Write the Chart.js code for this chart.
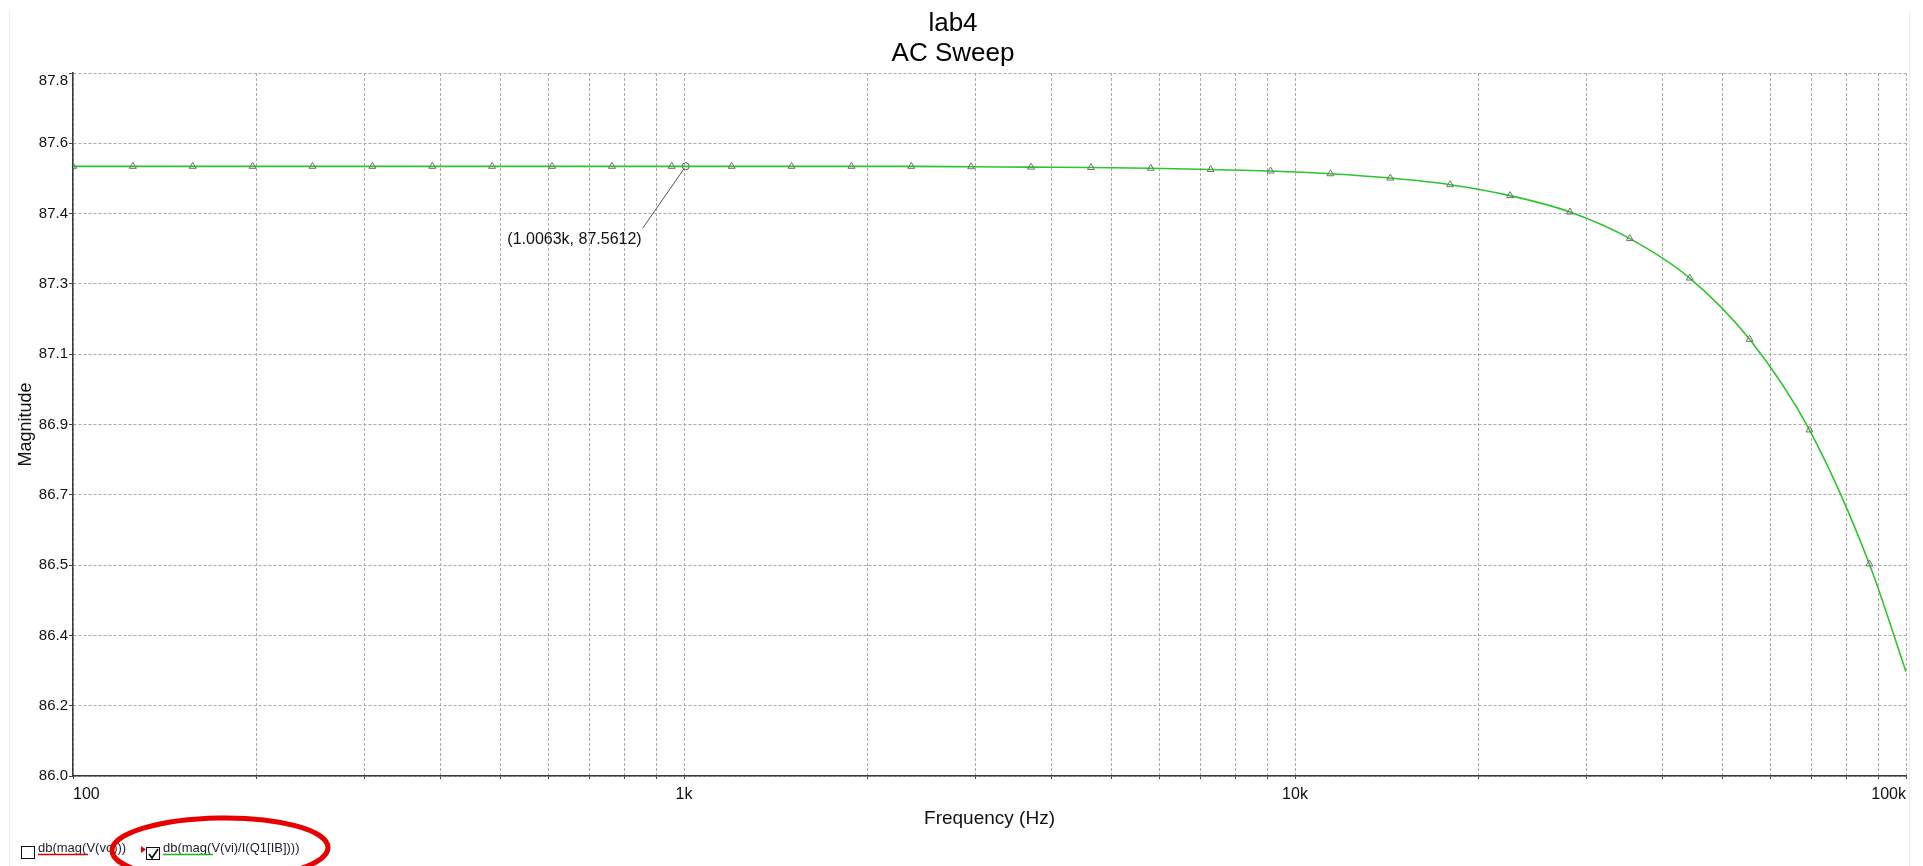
<!doctype html>
<html lang="en">

<head>
  <meta charset="utf-8">
  <title>lab4 AC Sweep</title>
  <style>
    html, body { margin: 0; padding: 0; background: #fff; }
    .container { position: relative; width: 1923px; height: 866px; }
  </style>
</head>

<body>
  <div class="container">
    <canvas id="myChart"></canvas>
  </div>

  <script src="https://cdn.jsdelivr.net/npm/chart.js@4.4.2/dist/chart.umd.min.js"></script>

  <script>
    const FONT = "'Liberation Sans', Arial, sans-serif";

    // trace points (marker positions) plus the sweep end at 100k
    const freq = [100, 125.3, 157.0, 196.8, 246.6, 309.0, 387.3, 485.3, 608.1, 762.1,
      955.0, 1196.7, 1499.7, 1879.3, 2355.0, 2951.2, 3698.2, 4634.4, 5807.6, 7277.8,
      9120.1, 11429, 14322, 17947, 22491, 28184, 35318, 44259, 55463, 69502, 87096, 100000];
    const mag = [87.561, 87.561, 87.561, 87.561, 87.561, 87.561, 87.561, 87.561, 87.561, 87.561,
      87.561, 87.561, 87.561, 87.561, 87.561, 87.560, 87.559, 87.558, 87.556, 87.553,
      87.549, 87.542, 87.531, 87.514, 87.486, 87.444, 87.376, 87.275, 87.118, 86.886, 86.543, 86.267];

    // cursor readout
    const cursorFreq = [1006.3];
    const cursorMag = [87.5612];
    const cursorText = ['(1.0063k, 87.5612)'];

    // axis grid / labels
    const xGrid = [100, 200, 300, 400, 500, 600, 700, 800, 900,
      1000, 2000, 3000, 4000, 5000, 6000, 7000, 8000, 9000,
      10000, 20000, 30000, 40000, 50000, 60000, 70000, 80000, 90000, 100000];
    const xTickLabels = { 100: '100', 1000: '1k', 10000: '10k', 100000: '100k' };
    const yGrid = [86.0, 86.18, 86.36, 86.54, 86.72, 86.90, 87.08, 87.26, 87.44, 87.62, 87.8];
    const yTickLabels = ['86.0', '86.2', '86.4', '86.5', '86.7', '86.9', '87.1', '87.3', '87.4', '87.6', '87.8'];

    // trace legend at the bottom
    const legendNames = ['db(mag(V(vo)))', 'db(mag(V(vi)/I(Q1[IB])))'];
    const legendColors = ['#e00000', '#18b818'];
    const legendChecked = [false, true];

    const framePlugin = {
      id: 'frame',
      beforeDraw(chart) {
        const c = chart.ctx;
        c.save();
        c.strokeStyle = '#ececec';
        c.lineWidth = 1;
        c.beginPath();
        c.moveTo(9.5, 11); c.lineTo(9.5, 866);
        c.moveTo(1909.5, 11); c.lineTo(1909.5, 866);
        c.stroke();
        c.restore();
      }
    };

    // top y label sits inside the plot, below the top grid line
    const topLabelPlugin = {
      id: 'topLabel',
      afterDraw(chart) {
        const s = chart.scales.y;
        const c = chart.ctx;
        c.save();
        c.font = '15px ' + FONT;
        c.fillStyle = '#111';
        c.textAlign = 'right';
        c.textBaseline = 'middle';
        c.fillText(yTickLabels[yTickLabels.length - 1], s.right - 5, s.getPixelForValue(yGrid[yGrid.length - 1]) + 8);
        c.restore();
      }
    };

    const cursorPlugin = {
      id: 'cursorLabel',
      afterDatasetsDraw(chart) {
        const pt = chart.getDatasetMeta(1).data[0];
        if (!pt) return;
        const c = chart.ctx;
        c.save();
        c.strokeStyle = '#555';
        c.lineWidth = 1;
        c.beginPath();
        c.moveTo(pt.x - 2, pt.y + 3);
        c.lineTo(pt.x - 43, pt.y + 62);
        c.stroke();
        c.font = '16px ' + FONT;
        c.fillStyle = '#111';
        c.textAlign = 'right';
        c.textBaseline = 'middle';
        c.fillText(cursorText[0], pt.x - 44, pt.y + 73);
        c.restore();
      }
    };

    const legendPlugin = {
      id: 'traceLegend',
      afterDraw(chart) {
        const c = chart.ctx;
        const items = [{ box: 21, text: 38 }, { box: 146, text: 163 }];
        c.save();
        c.font = '13px ' + FONT;
        c.textBaseline = 'alphabetic';
        items.forEach((it, i) => {
          c.fillStyle = '#1e1e30';
          c.fillText(legendNames[i], it.text, 852);
          c.strokeStyle = legendColors[i];
          c.lineWidth = 1.5;
          c.beginPath();
          c.moveTo(it.text, 854.5); c.lineTo(it.text + 50, 854.5);
          c.stroke();
          c.strokeStyle = '#111';
          c.lineWidth = 1;
          c.strokeRect(it.box + 0.5, 846.5 + i, 13, 12);
          if (legendChecked[i]) {
            c.lineWidth = 1.8;
            c.beginPath();
            c.moveTo(it.box + 3, 853 + i);
            c.lineTo(it.box + 6, 857 + i);
            c.lineTo(it.box + 12, 848 + i);
            c.stroke();
          }
        });
        // hand-drawn red ellipse
        c.fillStyle = '#e80000';
        c.beginPath();
        c.moveTo(141, 846); c.lineTo(146, 849.5); c.lineTo(141, 853); c.closePath();
        c.fill();
        c.strokeStyle = '#e80000';
        c.lineWidth = 5;
        c.beginPath();
        c.ellipse(220, 849, 108, 31, -0.015, 0, Math.PI * 2);
        c.stroke();
        c.lineWidth = 3;
        c.beginPath();
        c.ellipse(220, 847, 106, 29, -0.015, Math.PI * 1.1, Math.PI * 1.9);
        c.stroke();
        c.restore();
      }
    };

    const ctx = document.getElementById('myChart');

    new Chart(ctx, {
      type: 'line',
      data: {
        datasets: [{
          label: legendNames[1],
          data: freq.map((f, i) => ({ x: f, y: mag[i] })),
          borderColor: '#2ec42e',
          borderWidth: 1.6,
          cubicInterpolationMode: 'monotone',
          fill: false,
          pointStyle: 'triangle',
          pointRadius: (c) => (c.raw && c.raw.x >= 100000 ? 0 : 4),
          pointBorderColor: '#707070',
          pointBackgroundColor: 'rgba(255,255,255,0)',
          pointBorderWidth: 1
        }, {
          label: 'cursor',
          data: cursorFreq.map((f, i) => ({ x: f, y: cursorMag[i] })),
          showLine: false,
          pointStyle: 'circle',
          pointRadius: 3.5,
          pointBorderColor: '#555',
          pointBackgroundColor: 'rgba(255,255,255,0)',
          pointBorderWidth: 1
        }]
      },
      options: {
        responsive: true,
        maintainAspectRatio: false,
        animation: false,
        layout: { padding: { left: 0, right: 17, top: 0, bottom: 35.6 } },
        plugins: {
          legend: { display: false },
          tooltip: { enabled: false },
          title: {
            display: true,
            text: ['lab4', 'AC Sweep'],
            color: '#000',
            font: { family: FONT, size: 26, weight: 'normal', lineHeight: 1.15 },
            padding: { top: 9, bottom: 4.2 }
          }
        },
        scales: {
          x: {
            type: 'logarithmic',
            min: 100,
            max: 100000,
            afterBuildTicks: (s) => { s.ticks = xGrid.map(v => ({ value: v })); },
            afterFit: (s) => { s.height = 54.4; },
            ticks: {
              autoSkip: false,
              maxRotation: 0,
              minRotation: 0,
              align: 'inner',
              padding: 6,
              color: '#111',
              font: { family: FONT, size: 16 },
              callback: (v) => xTickLabels[v] || ''
            },
            grid: { color: '#aaaaaa', lineWidth: 1, tickLength: 3, tickColor: '#444' },
            border: { display: true, color: '#3a3a3a', width: 1.5, dash: [3, 2] },
            title: {
              display: true,
              text: 'Frequency (Hz)',
              color: '#111',
              font: { family: FONT, size: 19 },
              padding: { top: 3.4, bottom: 0 }
            }
          },
          y: {
            min: 86.0,
            max: 87.8,
            afterBuildTicks: (s) => { s.ticks = yGrid.map(v => ({ value: v })); },
            afterFit: (s) => { s.width = 73; },
            ticks: {
              padding: 1,
              color: '#111',
              font: { family: FONT, size: 15 },
              callback: (v, i) => (i === yTickLabels.length - 1 ? '' : yTickLabels[i])
            },
            grid: { color: '#aaaaaa', lineWidth: 1, tickLength: 4, tickColor: '#444' },
            border: { display: true, color: '#3a3a3a', width: 1.5, dash: [3, 2] },
            title: {
              display: true,
              text: 'Magnitude',
              color: '#111',
              font: { family: FONT, size: 18 },
              padding: { top: 15, bottom: 0 }
            }
          }
        }
      },
      plugins: [framePlugin, topLabelPlugin, cursorPlugin, legendPlugin]
    });
  </script>

</body>

</html>
